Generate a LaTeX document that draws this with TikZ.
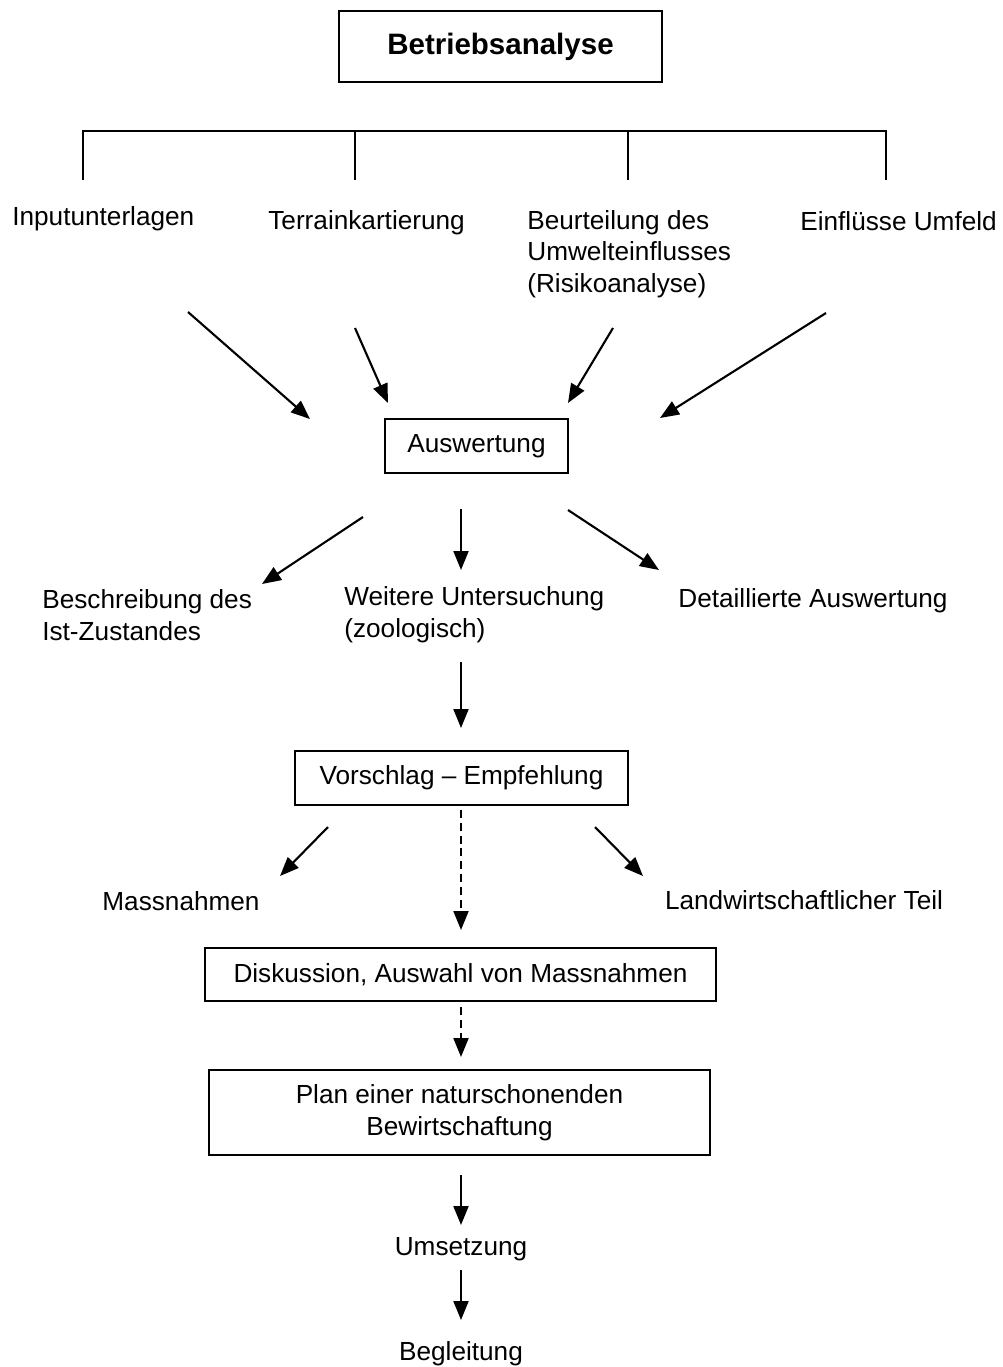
\documentclass[tikz,border=0pt]{standalone}
\usepackage{fontspec}
\setmainfont{Liberation Sans}
\usetikzlibrary{arrows.meta,positioning}

\tikzset{
  box/.style={draw, line width=0.8pt, inner sep=0pt},
  lbl/.style={inner sep=0pt, align=left},
  flow/.style={-{Triangle[length=0.38cm,width=0.3cm]}, line width=1.2pt},
  dflow/.style={flow, dash pattern=on 4.5pt off 2.8pt}
}

\begin{document}
\begin{tikzpicture}[x=0.02cm, y=-0.02cm, font=\fontsize{14.9}{18}\selectfont]
  \useasboundingbox (0,0) rectangle (1003,1367);

  % Kopf
  \node[box, minimum width=6.46cm, minimum height=1.42cm, font=\fontsize{16.8}{20}\selectfont\bfseries] (betrieb) at (500.5,46.5) {Betriebsanalyse};

  % Klammer
  \draw[line width=0.8pt] (83,180) -- (83,131) -- (886,131) -- (886,180);
  \draw[line width=0.8pt] (355,131) -- (355,180);
  \draw[line width=0.8pt] (628,131) -- (628,180);

  \node[lbl, anchor=west] (input) at (12,219) {Inputunterlagen};
  \node[lbl, anchor=west] (terrain) at (268,223) {Terrainkartierung};
  \node[lbl, anchor=west] (beurteil) at (527,254) {Beurteilung des\\Umwelteinflusses\\(Risikoanalyse)};
  \node[lbl, anchor=west] (umfeld) at (800,221) {Einflüsse Umfeld};

  \node[box, minimum width=3.66cm, minimum height=1.08cm] (ausw) at (476.5,446) {Auswertung};

  \coordinate (a1s) at (188,312); \coordinate (a1e) at (310,419);
  \coordinate (a2s) at (355,328); \coordinate (a2e) at (388,403);
  \coordinate (a3s) at (613,328); \coordinate (a3e) at (568,403);
  \coordinate (a4s) at (826,313); \coordinate (a4e) at (660,418);
  \draw[flow] (a1s) -- (a1e);
  \draw[flow] (a2s) -- (a2e);
  \draw[flow] (a3s) -- (a3e);
  \draw[flow] (a4s) -- (a4e);

  \node[lbl, anchor=west] (ist) at (42,615) {Beschreibung des\\Ist-Zustandes};
  \node[lbl, anchor=west] (weitere) at (344,615) {Weitere Untersuchung\\(zoologisch)};
  \node[lbl, anchor=west] (detail) at (678,601) {Detaillierte Auswertung};

  \coordinate (b1s) at (363,517); \coordinate (b1e) at (262,584);
  \coordinate (b2s) at (461,509); \coordinate (b2e) at (461,570);
  \coordinate (b3s) at (568,510); \coordinate (b3e) at (659,570);
  \draw[flow] (b1s) -- (b1e);
  \draw[flow] (b2s) -- (b2e);
  \draw[flow] (b3s) -- (b3e);

  \node[box, minimum width=6.66cm, minimum height=1.08cm] (vorschlag) at (461.5,778) {Vorschlag -- Empfehlung};
  \coordinate (c0s) at (461,662); \coordinate (c0e) at (461,728);
  \draw[flow] (c0s) -- (c0e);

  \node[lbl] (massn) at (181,901) {Massnahmen};
  \node[lbl] (landw) at (804,900) {Landwirtschaftlicher Teil};

  \coordinate (c1s) at (328,827); \coordinate (c1e) at (280,876);
  \coordinate (c2s) at (461,810); \coordinate (c2e) at (461,930);
  \coordinate (c3s) at (595,827); \coordinate (c3e) at (643,876);
  \draw[flow] (c1s) -- (c1e);
  \draw[dflow] (c2s) -- (c2e);
  \draw[flow] (c3s) -- (c3e);

  \node[box, minimum width=10.22cm, minimum height=1.06cm] (diskussion) at (460.5,974.5) {Diskussion, Auswahl von Massnahmen};
  \coordinate (d1s) at (461,1007); \coordinate (d1e) at (461,1057);
  \draw[dflow] (d1s) -- (d1e);

  \node[box, minimum width=10.02cm, minimum height=1.7cm, align=center] (plan) at (459.5,1112.5) {Plan einer naturschonenden\\Bewirtschaftung};

  \node[lbl] (umsetz) at (461,1249) {Umsetzung};
  \node[lbl] (begl) at (461,1354) {Begleitung};
  \coordinate (e1s) at (461,1175); \coordinate (e1e) at (461,1225);
  \coordinate (e2s) at (461,1270); \coordinate (e2e) at (461,1320);
  \draw[flow] (e1s) -- (e1e);
  \draw[flow] (e2s) -- (e2e);
\end{tikzpicture}
\end{document}
